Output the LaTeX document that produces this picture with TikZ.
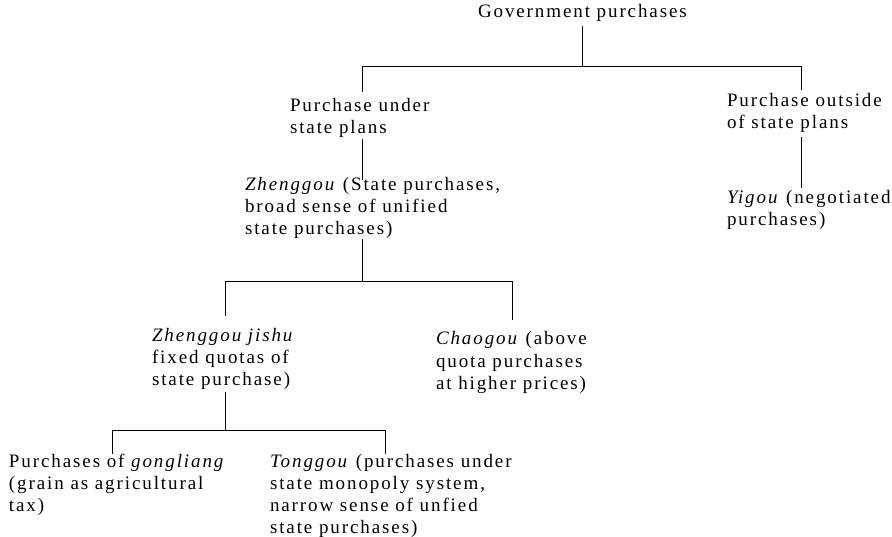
\documentclass[tikz,border=0pt]{standalone}
\usepackage{fontspec}
\setmainfont{Liberation Serif}[LetterSpace=10]
\newcommand\capstrut{\rule{0pt}{14pt}}
\begin{document}
\begin{tikzpicture}[x=1pt,y=-1pt,
  lbl/.style={anchor=north west, inner sep=0pt, outer sep=0pt, align=left,
              font=\fontsize{19}{22}\selectfont},
  conn/.style={line width=1pt, line cap=rect}]
\useasboundingbox (0,0) rectangle (892,537);
% text nodes (position = first baseline - 14)
\node[lbl] (gov)   at (478,18-14)  {\capstrut Government purchases};
\node[lbl] (under) at (290,112-14) {\capstrut Purchase under\\state plans};
\node[lbl] (outs)  at (727,107-14) {\capstrut Purchase outside\\of state plans};
\node[lbl] (yig)   at (727,204-14) {\capstrut\textit{Yigou} (negotiated\\purchases)};
\node[lbl] (zheng) at (245,191-14) {\capstrut\textit{Zhenggou} (State purchases,\\broad sense of unified\\state purchases)};
\node[lbl] (jishu) at (152,341-14) {\capstrut\textit{Zhenggou jishu}\\fixed quotas of\\state purchase)};
\node[lbl] (chao)  at (436,345-14) {\capstrut\textit{Chaogou} (above\\quota purchases\\at higher prices)};
\node[lbl] (gong)  at (9,467-14)   {\capstrut Purchases of \textit{gongliang}\\(grain as agricultural\\tax)};
\node[lbl] (tong)  at (270,467-14) {\capstrut\textit{Tonggou} (purchases under\\state monopoly system,\\narrow sense of unfied\\state purchases)};
% junction coordinates
\coordinate (g0) at (582,27);   \coordinate (g1) at (582,67);
\coordinate (bl) at (362,67);   \coordinate (br) at (801,67);
\coordinate (ul) at (362,92);   \coordinate (ur) at (801,90);
\coordinate (u0) at (362,140);  \coordinate (u1) at (362,180);
\coordinate (o0) at (801,138);  \coordinate (o1) at (801,188);
\coordinate (z0) at (362,240);  \coordinate (z1) at (362,282);
\coordinate (zl) at (225,282);  \coordinate (zr) at (512,282);
\coordinate (jl) at (225,316);  \coordinate (cr) at (512,320);
\coordinate (j0) at (225,393);  \coordinate (j1) at (225,430);
\coordinate (tl) at (112,430);  \coordinate (tr) at (385,430);
\coordinate (gl) at (112,453);  \coordinate (tt) at (385,453);
% connectors
\draw[conn] (g0) -- (g1);
\draw[conn] (ul) -- (bl) -- (br) -- (ur);
\draw[conn] (u0) -- (u1);
\draw[conn] (o0) -- (o1);
\draw[conn] (z0) -- (z1);
\draw[conn] (jl) -- (zl) -- (zr) -- (cr);
\draw[conn] (j0) -- (j1);
\draw[conn] (gl) -- (tl) -- (tr) -- (tt);
\end{tikzpicture}
\end{document}
